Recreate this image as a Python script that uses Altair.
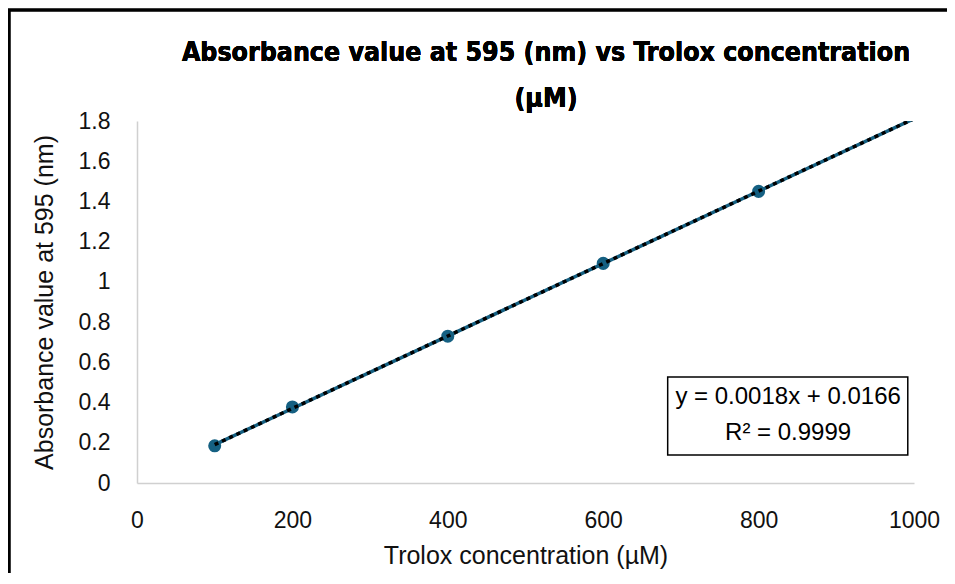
import altair as alt
import pandas as pd

# data
conc = [100, 200, 400, 600, 800]
absorb = [0.185, 0.378, 0.730, 1.092, 1.450]
trend_extent = [100, 1000]
equation_lines = ["y = 0.0018x + 0.0166", "R² = 0.9999"]
eq_line_y = [0.428, 0.249]
eq_x = [838, 838]
box_x = [683]
box_x2 = [992]
box_y = [0.139]
box_y2 = [0.527]
title_lines = ["Absorbance value at 595 (nm) vs Trolox concentration", "(µM)"]

df = pd.DataFrame({"x": conc, "y": absorb})
eq_df = pd.DataFrame({"x": eq_x, "y": eq_line_y, "t": equation_lines})
box_df = pd.DataFrame({"x": box_x, "x2": box_x2, "y": box_y, "y2": box_y2})

TEAL = "#156082"
FONT = "Liberation Sans"
TFONT = "DejaVu Sans Condensed"
W, H = 777, 362
PAD = {"left": 129, "top": 113, "right": 33, "bottom": 90}

xs = alt.Scale(domain=[0, 1000], nice=False)
ys = alt.Scale(domain=[0, 1.8], nice=False)

xax = alt.Axis(values=[0, 200, 400, 600, 800, 1000], title="Trolox concentration (µM)", format="d",
               grid=False, ticks=False, tickSize=0, labelPadding=26, titlePadding=11,
               labelFlush=False,
               domainColor="#d0d0d0", domainWidth=1.5, labelFontSize=23, titleFontSize=25,
               labelColor="#111111", titleColor="#111111", labelFont=FONT, titleFont=FONT,
               titleFontWeight="normal")
yax = alt.Axis(values=[0, 0.2, 0.4, 0.6, 0.8, 1, 1.2, 1.4, 1.6, 1.8],
               title="Absorbance value at 595 (nm)", format="~g",
               grid=False, ticks=False, tickSize=0, labelPadding=27, titlePadding=21,
               labelFlush=False,
               domainColor="#d0d0d0", domainWidth=1.5, labelFontSize=23, titleFontSize=25,
               labelColor="#111111", titleColor="#111111", labelFont=FONT, titleFont=FONT,
               titleFontWeight="normal")

pts = alt.Chart(df).mark_circle(size=170, color=TEAL, opacity=1).encode(
    x=alt.X("x:Q", scale=xs, axis=xax),
    y=alt.Y("y:Q", scale=ys, axis=yax),
)

reg = alt.Chart(df).transform_regression("x", "y", extent=trend_extent)
teal_line = reg.mark_line(color=TEAL, strokeWidth=3.5, clip=True).encode(
    x=alt.X("x:Q", scale=xs), y=alt.Y("y:Q", scale=ys))
black_line = reg.mark_line(color="black", strokeWidth=3.5, strokeDash=[4, 4], clip=True).encode(
    x=alt.X("x:Q", scale=xs), y=alt.Y("y:Q", scale=ys))

box = alt.Chart(box_df).mark_rect(fill="white", stroke="black", strokeWidth=1.5).encode(
    x=alt.X("x:Q", scale=xs), x2="x2:Q", y=alt.Y("y:Q", scale=ys), y2="y2:Q")
eq = alt.Chart(eq_df).mark_text(fontSize=24, font=FONT, color="black", baseline="middle").encode(
    x=alt.X("x:Q", scale=xs), y=alt.Y("y:Q", scale=ys), text="t:N")

title1 = alt.Chart(df).mark_text(
    text=title_lines[0], font=TFONT, fontSize=26.5, fontWeight="bold",
    color="black", align="center", baseline="middle", clip=False).encode(
    x=alt.value(409), y=alt.value(-68))
title2 = alt.Chart(df).mark_text(
    text=title_lines[1], font=TFONT, fontSize=26.5, fontWeight="bold",
    color="black", align="center", baseline="middle", clip=False).encode(
    x=alt.value(409), y=alt.value(-22))

border_left = alt.Chart(df).mark_rule(color="black", strokeWidth=2.5, clip=False).encode(
    x=alt.value(-128), y=alt.value(-112), y2=alt.value(H + 100))
border_top = alt.Chart(df).mark_rule(color="black", strokeWidth=2.5, clip=False).encode(
    x=alt.value(-130), x2=alt.value(W + 60), y=alt.value(-111))

chart = alt.layer(pts, teal_line, black_line, box, eq, title1, title2,
                  border_left, border_top).properties(
    width=W, height=H,
    padding=PAD,
    autosize=alt.AutoSizeParams(type="none"),
).configure_view(stroke=None)

chart.save("out.html", embed_options={"renderer": "svg", "actions": False})
